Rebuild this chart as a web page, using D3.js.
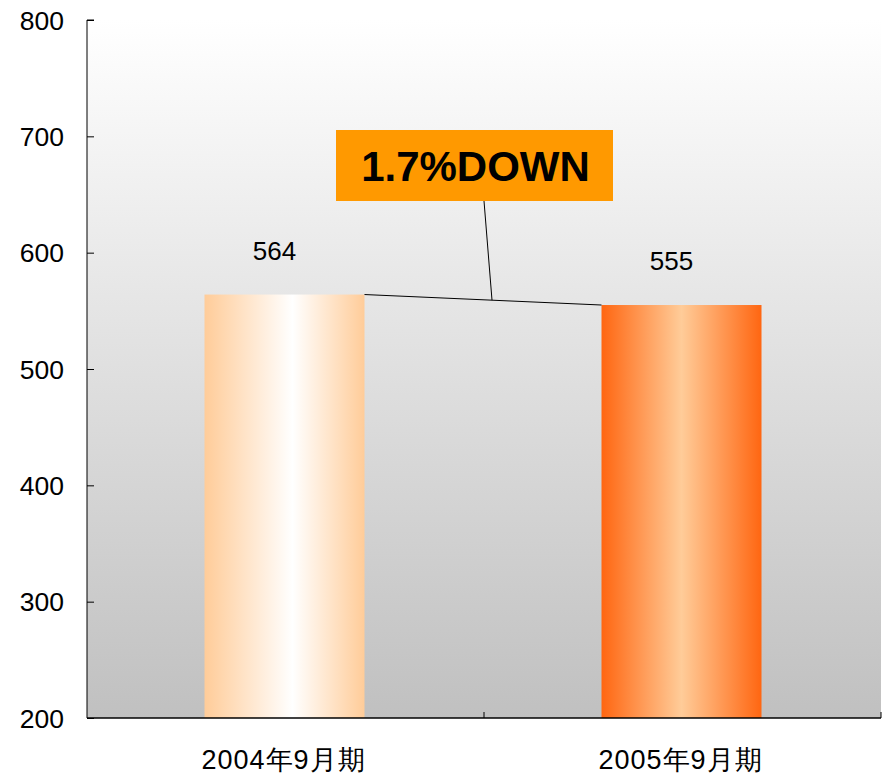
<!DOCTYPE html>
<html>
<head>
<meta charset="utf-8">
<script src="https://cdn.jsdelivr.net/npm/d3@7"></script>
<style>
  body { margin: 0; background: #fff; }
  svg text { font-family: "Liberation Sans", Arial, sans-serif; fill: #000; }
</style>
</head>
<body>
<svg id="chart" width="888" height="777"></svg>
<script>
var categories = ["2004年9月期", "2005年9月期"];
var values = [564, 555];
var yTicks = [200, 300, 400, 500, 600, 700, 800];
var changeLabel = "1.7%DOWN";

var margin = {top: 20, right: 7, bottom: 59, left: 87};
var width = 888 - margin.left - margin.right,
    height = 777 - margin.top - margin.bottom;

var svg = d3.select("#chart");
var defs = svg.append("defs");

// plot background: white at top fading to grey
var bg = defs.append("linearGradient").attr("id", "bg-grad")
  .attr("x1", 0).attr("y1", 0).attr("x2", 0).attr("y2", 1);
bg.append("stop").attr("offset", "0%").attr("stop-color", "#ffffff");
bg.append("stop").attr("offset", "100%").attr("stop-color", "#c0c0c0");

// bar fills, horizontal
var barGrads = [
  [["0%", "#ffcc99"], ["55%", "#ffffff"], ["100%", "#ffcc99"]],
  [["0%", "#ff6611"], ["50%", "#ffcc99"], ["100%", "#ff6611"]]
];
barGrads.forEach(function(stops, i) {
  var g = defs.append("linearGradient").attr("id", "bar-grad-" + i)
    .attr("x1", 0).attr("y1", 0).attr("x2", 1).attr("y2", 0);
  stops.forEach(function(s) {
    g.append("stop").attr("offset", s[0]).attr("stop-color", s[1]);
  });
});

var g = svg.append("g").attr("transform", "translate(" + margin.left + "," + margin.top + ")");

var x = d3.scaleBand().domain(categories).range([0, width]).paddingInner(0).paddingOuter(0);
var y = d3.scaleLinear().domain([200, 800]).range([height, 0]);

g.append("rect")
  .attr("width", width).attr("height", height)
  .attr("fill", "url(#bg-grad)");

var barW = x.bandwidth() * 0.403;

g.selectAll(".bar").data(values).enter().append("rect")
  .attr("class", "bar")
  .attr("x", function(d, i) { return x(categories[i]) + (x.bandwidth() - barW) / 2 - 1; })
  .attr("y", function(d) { return y(d); })
  .attr("width", barW)
  .attr("height", function(d) { return height - y(d); })
  .attr("fill", function(d, i) { return "url(#bar-grad-" + i + ")"; });

// value labels
g.selectAll(".val").data(values).enter().append("text")
  .attr("class", "val")
  .attr("x", function(d, i) { return x(categories[i]) + x.bandwidth() / 2 - 11; })
  .attr("y", function(d) { return y(d) - 35; })
  .attr("text-anchor", "middle")
  .attr("font-size", "26px")
  .text(function(d) { return d; });

// y axis, ticks pointing inward
var yAxis = g.append("g").call(d3.axisRight(y).tickValues(yTicks).tickSize(7).tickFormat(""));
yAxis.select(".domain").attr("stroke", "#000").attr("d", "M0," + height + "V0H7");
yAxis.selectAll(".tick line").attr("stroke", "#000");

g.selectAll(".ylab").data(yTicks).enter().append("text")
  .attr("class", "ylab")
  .attr("x", -23)
  .attr("y", function(d) { return y(d); })
  .attr("dy", "0.36em")
  .attr("text-anchor", "end")
  .attr("font-size", "26.5px")
  .text(function(d) { return d; });

// x axis
var xAxis = g.append("g").attr("transform", "translate(0," + height + ")");
xAxis.append("line").attr("x1", 0).attr("x2", width).attr("stroke", "#000").attr("stroke-width", 1.5);
xAxis.selectAll(".xtick").data(categories.slice(1).concat(["end"])).enter().append("line")
  .attr("x1", function(d, i) { return i < categories.length - 1 ? x(d) : width; })
  .attr("x2", function(d, i) { return i < categories.length - 1 ? x(d) : width; })
  .attr("y1", -6).attr("y2", 0)
  .attr("stroke", "#000");
xAxis.selectAll(".xlab").data(categories).enter().append("text")
  .attr("x", function(d) { return x(d) + x.bandwidth() / 2 - 2; })
  .attr("y", 51)
  .attr("text-anchor", "middle")
  .attr("font-size", "27px")
  .attr("letter-spacing", "1px")
  .attr("font-family", "'Liberation Sans', 'Noto Sans CJK JP', sans-serif")
  .text(function(d) { return d; });

// connector between bar tops and the callout
var x0 = x(categories[0]) + (x.bandwidth() + barW) / 2 - 1,
    x1 = x(categories[1]) + (x.bandwidth() - barW) / 2 - 1,
    y0 = y(values[0]), y1 = y(values[1]);
g.append("line")
  .attr("x1", x0).attr("y1", y0).attr("x2", x1).attr("y2", y1)
  .attr("stroke", "#000").attr("stroke-width", 1);

var midX = 405, midY = y0 + (y1 - y0) * (midX - x0) / (x1 - x0);
var boxX = 249, boxY = 110, boxW = 277, boxH = 71;
g.append("line")
  .attr("x1", boxX + 148).attr("y1", boxY + boxH)
  .attr("x2", midX).attr("y2", midY)
  .attr("stroke", "#000").attr("stroke-width", 1);

g.append("rect")
  .attr("x", boxX).attr("y", boxY).attr("width", boxW).attr("height", boxH)
  .attr("fill", "#ff9900");
g.append("text")
  .attr("x", boxX + boxW / 2 + 1).attr("y", boxY + boxH / 2)
  .attr("dy", "0.36em")
  .attr("text-anchor", "middle")
  .attr("font-size", "42px")
  .attr("font-weight", "bold")
  .text(changeLabel);
</script>
</body>
</html>
